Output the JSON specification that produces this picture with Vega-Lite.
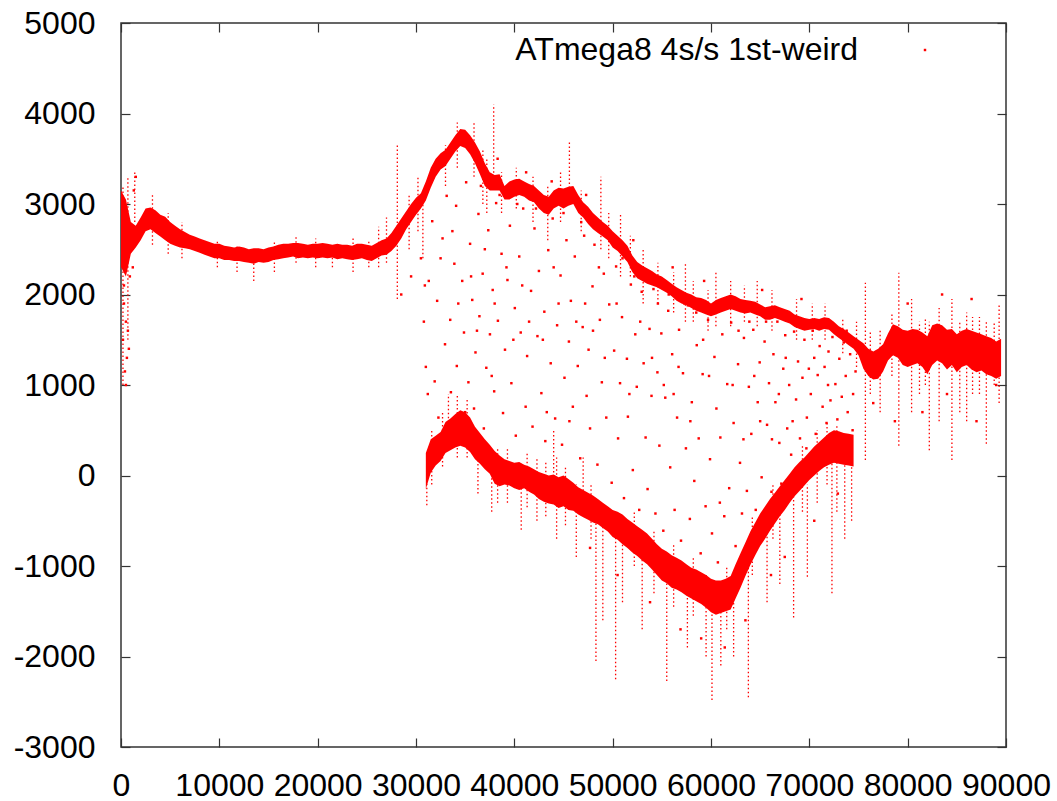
{
  "$schema": "https://vega.github.io/schema/vega-lite/v6.json",
  "width": 885,
  "height": 724,
  "autosize": {"type": "none"},
  "padding": {"left": 121, "top": 23, "right": 51, "bottom": 54},
  "background": "white",
  "config": {
    "view": {"stroke": "#333333", "strokeWidth": 1.5},
    "font": "Liberation Sans",
    "axis": {"grid": false, "domain": false, "tickColor": "#333333", "tickWidth": 1.2, "labelFont": "Liberation Sans", "labelFontSize": 32, "labelColor": "#000000", "title": null}
  },
  "datasets": {
    "upper": [
      {"x":0,"lo":2300,"hi":3150},{"x":500,"lo":2200,"hi":3050},{"x":1000,"lo":2450,"hi":2800},{"x":1500,"lo":2520,"hi":2760},
      {"x":2000,"lo":2600,"hi":2850},{"x":2500,"lo":2700,"hi":2950},{"x":3000,"lo":2720,"hi":2960},{"x":3500,"lo":2680,"hi":2930},
      {"x":4000,"lo":2640,"hi":2880},{"x":4500,"lo":2600,"hi":2860},{"x":5000,"lo":2560,"hi":2800},{"x":5500,"lo":2540,"hi":2760},
      {"x":6000,"lo":2520,"hi":2720},{"x":6500,"lo":2510,"hi":2690},{"x":7000,"lo":2500,"hi":2660},{"x":7500,"lo":2480,"hi":2640},
      {"x":8000,"lo":2460,"hi":2620},{"x":8500,"lo":2440,"hi":2600},{"x":9000,"lo":2420,"hi":2580},{"x":9500,"lo":2400,"hi":2560},
      {"x":10000,"lo":2400,"hi":2560},{"x":10500,"lo":2380,"hi":2540},{"x":11000,"lo":2380,"hi":2530},{"x":11500,"lo":2370,"hi":2520},
      {"x":12000,"lo":2370,"hi":2530},{"x":12500,"lo":2360,"hi":2520},{"x":13000,"lo":2350,"hi":2500},{"x":13500,"lo":2340,"hi":2510},
      {"x":14000,"lo":2360,"hi":2510},{"x":14500,"lo":2350,"hi":2500},{"x":15000,"lo":2360,"hi":2520},{"x":15500,"lo":2380,"hi":2530},
      {"x":16000,"lo":2390,"hi":2550},{"x":16500,"lo":2400,"hi":2560},{"x":17000,"lo":2410,"hi":2560},{"x":17500,"lo":2420,"hi":2570},
      {"x":18000,"lo":2400,"hi":2570},{"x":18500,"lo":2410,"hi":2560},{"x":19000,"lo":2400,"hi":2550},{"x":19500,"lo":2410,"hi":2560},
      {"x":20000,"lo":2400,"hi":2560},{"x":20500,"lo":2410,"hi":2570},{"x":21000,"lo":2400,"hi":2560},{"x":21500,"lo":2410,"hi":2550},
      {"x":22000,"lo":2390,"hi":2560},{"x":22500,"lo":2400,"hi":2550},{"x":23000,"lo":2390,"hi":2550},{"x":23500,"lo":2380,"hi":2540},
      {"x":24000,"lo":2390,"hi":2560},{"x":24500,"lo":2400,"hi":2560},{"x":25000,"lo":2380,"hi":2550},{"x":25500,"lo":2370,"hi":2540},
      {"x":26000,"lo":2400,"hi":2570},{"x":26500,"lo":2430,"hi":2600},{"x":27000,"lo":2440,"hi":2620},{"x":27500,"lo":2480,"hi":2680},
      {"x":28000,"lo":2540,"hi":2760},{"x":28500,"lo":2620,"hi":2840},{"x":29000,"lo":2720,"hi":2920},{"x":29500,"lo":2800,"hi":3000},
      {"x":30000,"lo":2880,"hi":3070},{"x":30500,"lo":2950,"hi":3120},{"x":31000,"lo":3040,"hi":3250},{"x":31500,"lo":3180,"hi":3400},
      {"x":32000,"lo":3300,"hi":3500},{"x":32500,"lo":3380,"hi":3560},{"x":33000,"lo":3420,"hi":3600},{"x":33500,"lo":3500,"hi":3680},
      {"x":34000,"lo":3580,"hi":3760},{"x":34500,"lo":3640,"hi":3830},{"x":35000,"lo":3620,"hi":3820},{"x":35500,"lo":3550,"hi":3760},
      {"x":36000,"lo":3450,"hi":3680},{"x":36500,"lo":3330,"hi":3580},{"x":37000,"lo":3200,"hi":3450},{"x":37500,"lo":3150,"hi":3350},
      {"x":38000,"lo":3150,"hi":3320},{"x":38500,"lo":3150,"hi":3330},{"x":39000,"lo":3050,"hi":3200},{"x":39500,"lo":3050,"hi":3250},
      {"x":40000,"lo":3080,"hi":3270},{"x":40500,"lo":3100,"hi":3280},{"x":41000,"lo":3080,"hi":3250},{"x":41500,"lo":3040,"hi":3220},
      {"x":42000,"lo":3020,"hi":3200},{"x":42500,"lo":2950,"hi":3150},{"x":43000,"lo":2900,"hi":3100},{"x":43500,"lo":2880,"hi":3080},
      {"x":44000,"lo":2950,"hi":3150},{"x":44500,"lo":2980,"hi":3180},{"x":45000,"lo":2950,"hi":3170},{"x":45500,"lo":2980,"hi":3190},
      {"x":46000,"lo":3000,"hi":3200},{"x":46500,"lo":2900,"hi":3100},{"x":47000,"lo":2850,"hi":3020},{"x":47500,"lo":2780,"hi":2970},
      {"x":48000,"lo":2720,"hi":2900},{"x":48500,"lo":2680,"hi":2850},{"x":49000,"lo":2640,"hi":2800},{"x":49500,"lo":2600,"hi":2760},
      {"x":50000,"lo":2520,"hi":2700},{"x":50500,"lo":2480,"hi":2650},{"x":51000,"lo":2420,"hi":2600},{"x":51500,"lo":2360,"hi":2540},
      {"x":52000,"lo":2250,"hi":2430},{"x":52500,"lo":2180,"hi":2360},{"x":53000,"lo":2150,"hi":2320},{"x":53500,"lo":2120,"hi":2290},
      {"x":54000,"lo":2100,"hi":2260},{"x":54500,"lo":2080,"hi":2220},{"x":55000,"lo":2050,"hi":2200},{"x":55500,"lo":2020,"hi":2160},
      {"x":56000,"lo":1980,"hi":2120},{"x":56500,"lo":1930,"hi":2080},{"x":57000,"lo":1900,"hi":2050},{"x":57500,"lo":1880,"hi":2020},
      {"x":58000,"lo":1850,"hi":2000},{"x":58500,"lo":1820,"hi":1970},{"x":59000,"lo":1800,"hi":1960},{"x":59500,"lo":1780,"hi":1940},
      {"x":60000,"lo":1760,"hi":1900},{"x":60500,"lo":1780,"hi":1940},{"x":61000,"lo":1800,"hi":1960},{"x":61500,"lo":1820,"hi":1980},
      {"x":62000,"lo":1840,"hi":2000},{"x":62500,"lo":1820,"hi":1980},{"x":63000,"lo":1800,"hi":1950},{"x":63500,"lo":1790,"hi":1940},
      {"x":64000,"lo":1800,"hi":1930},{"x":64500,"lo":1780,"hi":1920},{"x":65000,"lo":1760,"hi":1890},{"x":65500,"lo":1720,"hi":1860},
      {"x":66000,"lo":1720,"hi":1870},{"x":66500,"lo":1740,"hi":1880},{"x":67000,"lo":1720,"hi":1860},{"x":67500,"lo":1700,"hi":1840},
      {"x":68000,"lo":1680,"hi":1820},{"x":68500,"lo":1640,"hi":1780},{"x":69000,"lo":1620,"hi":1760},{"x":69500,"lo":1600,"hi":1740},
      {"x":70000,"lo":1610,"hi":1730},{"x":70500,"lo":1620,"hi":1740},{"x":71000,"lo":1600,"hi":1730},{"x":71500,"lo":1620,"hi":1750},
      {"x":72000,"lo":1610,"hi":1740},{"x":72500,"lo":1560,"hi":1700},{"x":73000,"lo":1520,"hi":1650},{"x":73500,"lo":1480,"hi":1620},
      {"x":74000,"lo":1440,"hi":1580},{"x":74500,"lo":1400,"hi":1540},{"x":75000,"lo":1330,"hi":1500},{"x":75500,"lo":1180,"hi":1460},
      {"x":76000,"lo":1100,"hi":1400},{"x":76500,"lo":1060,"hi":1370},{"x":77000,"lo":1070,"hi":1400},{"x":77500,"lo":1150,"hi":1450},
      {"x":78000,"lo":1270,"hi":1570},{"x":78500,"lo":1330,"hi":1670},{"x":79000,"lo":1300,"hi":1650},{"x":79500,"lo":1220,"hi":1610},
      {"x":80000,"lo":1200,"hi":1600},{"x":80500,"lo":1220,"hi":1620},{"x":81000,"lo":1240,"hi":1610},{"x":81500,"lo":1200,"hi":1580},
      {"x":82000,"lo":1120,"hi":1540},{"x":82500,"lo":1220,"hi":1660},{"x":83000,"lo":1270,"hi":1680},{"x":83500,"lo":1240,"hi":1660},
      {"x":84000,"lo":1170,"hi":1610},{"x":84500,"lo":1220,"hi":1620},{"x":85000,"lo":1140,"hi":1560},{"x":85500,"lo":1200,"hi":1600},
      {"x":86000,"lo":1220,"hi":1620},{"x":86500,"lo":1170,"hi":1600},{"x":87000,"lo":1140,"hi":1580},{"x":87500,"lo":1160,"hi":1560},
      {"x":88000,"lo":1120,"hi":1540},{"x":88500,"lo":1100,"hi":1520},{"x":89000,"lo":1070,"hi":1480},{"x":89500,"lo":1100,"hi":1510}
    ],
    "lower": [
      {"x":31000,"lo":-150,"hi":250},{"x":31500,"lo":30,"hi":400},{"x":32000,"lo":110,"hi":440},{"x":32500,"lo":160,"hi":480},
      {"x":33000,"lo":250,"hi":590},{"x":33500,"lo":280,"hi":630},{"x":34000,"lo":310,"hi":680},{"x":34500,"lo":330,"hi":720},
      {"x":35000,"lo":310,"hi":700},{"x":35500,"lo":260,"hi":640},{"x":36000,"lo":180,"hi":540},{"x":36500,"lo":130,"hi":470},
      {"x":37000,"lo":70,"hi":400},{"x":37500,"lo":20,"hi":340},{"x":38000,"lo":-90,"hi":270},{"x":38500,"lo":-120,"hi":220},
      {"x":39000,"lo":-100,"hi":180},{"x":39500,"lo":-110,"hi":160},{"x":40000,"lo":-140,"hi":140},{"x":40500,"lo":-160,"hi":150},
      {"x":41000,"lo":-140,"hi":120},{"x":41500,"lo":-180,"hi":100},{"x":42000,"lo":-210,"hi":70},{"x":42500,"lo":-260,"hi":40},
      {"x":43000,"lo":-290,"hi":20},{"x":43500,"lo":-310,"hi":0},{"x":44000,"lo":-320,"hi":10},{"x":44500,"lo":-360,"hi":-20},
      {"x":45000,"lo":-340,"hi":0},{"x":45500,"lo":-380,"hi":-40},{"x":46000,"lo":-390,"hi":-80},{"x":46500,"lo":-430,"hi":-130},
      {"x":47000,"lo":-460,"hi":-160},{"x":47500,"lo":-490,"hi":-190},{"x":48000,"lo":-520,"hi":-220},{"x":48500,"lo":-540,"hi":-260},
      {"x":49000,"lo":-580,"hi":-300},{"x":49500,"lo":-620,"hi":-340},{"x":50000,"lo":-680,"hi":-380},{"x":50500,"lo":-710,"hi":-400},
      {"x":51000,"lo":-760,"hi":-430},{"x":51500,"lo":-800,"hi":-480},{"x":52000,"lo":-850,"hi":-520},{"x":52500,"lo":-890,"hi":-560},
      {"x":53000,"lo":-940,"hi":-600},{"x":53500,"lo":-980,"hi":-640},{"x":54000,"lo":-1040,"hi":-700},{"x":54500,"lo":-1100,"hi":-760},
      {"x":55000,"lo":-1160,"hi":-810},{"x":55500,"lo":-1190,"hi":-840},{"x":56000,"lo":-1240,"hi":-880},{"x":56500,"lo":-1260,"hi":-910},
      {"x":57000,"lo":-1290,"hi":-940},{"x":57500,"lo":-1330,"hi":-980},{"x":58000,"lo":-1360,"hi":-1020},{"x":58500,"lo":-1390,"hi":-1040},
      {"x":59000,"lo":-1420,"hi":-1070},{"x":59500,"lo":-1460,"hi":-1100},{"x":60000,"lo":-1510,"hi":-1140},{"x":60500,"lo":-1540,"hi":-1160},
      {"x":61000,"lo":-1520,"hi":-1160},{"x":61500,"lo":-1500,"hi":-1140},{"x":62000,"lo":-1480,"hi":-1110},{"x":62500,"lo":-1360,"hi":-980},
      {"x":63000,"lo":-1240,"hi":-860},{"x":63500,"lo":-1110,"hi":-740},{"x":64000,"lo":-990,"hi":-620},{"x":64500,"lo":-880,"hi":-520},
      {"x":65000,"lo":-780,"hi":-420},{"x":65500,"lo":-700,"hi":-340},{"x":66000,"lo":-610,"hi":-260},{"x":66500,"lo":-530,"hi":-190},
      {"x":67000,"lo":-450,"hi":-120},{"x":67500,"lo":-380,"hi":-50},{"x":68000,"lo":-300,"hi":20},{"x":68500,"lo":-230,"hi":90},
      {"x":69000,"lo":-170,"hi":150},{"x":69500,"lo":-110,"hi":200},{"x":70000,"lo":-50,"hi":260},{"x":70500,"lo":0,"hi":320},
      {"x":71000,"lo":50,"hi":370},{"x":71500,"lo":90,"hi":420},{"x":72000,"lo":120,"hi":470},{"x":72500,"lo":140,"hi":500},
      {"x":73000,"lo":130,"hi":490},{"x":73500,"lo":120,"hi":470},{"x":74000,"lo":110,"hi":460},{"x":74500,"lo":100,"hi":450}
    ],
    "spikes": [
      {"x":200,"lo":1000,"hi":3200},{"x":700,"lo":1500,"hi":3300},{"x":1400,"lo":2800,"hi":3350},{"x":13500,"lo":2150,"hi":2450},
      {"x":21500,"lo":2300,"hi":2450},{"x":27000,"lo":2350,"hi":2850},{"x":28100,"lo":1950,"hi":3650},{"x":30700,"lo":2400,"hi":3000},
      {"x":37200,"lo":2900,"hi":3500},{"x":37900,"lo":3300,"hi":4100},{"x":45600,"lo":3000,"hi":3680},{"x":48800,"lo":2500,"hi":3300},
      {"x":50800,"lo":2200,"hi":2880},{"x":53100,"lo":1900,"hi":2500},{"x":57400,"lo":1700,"hi":2350},{"x":60500,"lo":1650,"hi":2250},
      {"x":64700,"lo":1650,"hi":2150},{"x":75700,"lo":170,"hi":2130},{"x":77200,"lo":700,"hi":1600},{"x":79100,"lo":330,"hi":2240},
      {"x":80400,"lo":700,"hi":1950},{"x":81200,"lo":900,"hi":1700},{"x":82200,"lo":280,"hi":1700},{"x":83200,"lo":600,"hi":1850},
      {"x":84500,"lo":170,"hi":1950},{"x":85300,"lo":700,"hi":1700},{"x":86000,"lo":600,"hi":1800},{"x":87300,"lo":900,"hi":1750},
      {"x":88000,"lo":350,"hi":1700},{"x":89300,"lo":800,"hi":1900},
      {"x":3200,"lo":2550,"hi":3100},{"x":4800,"lo":2450,"hi":2900},{"x":6200,"lo":2400,"hi":2800},{"x":9800,"lo":2300,"hi":2600},
      {"x":11800,"lo":2250,"hi":2550},{"x":15600,"lo":2250,"hi":2600},{"x":17800,"lo":2350,"hi":2650},{"x":19800,"lo":2300,"hi":2620},
      {"x":23600,"lo":2250,"hi":2620},{"x":25200,"lo":2300,"hi":2600},{"x":26200,"lo":2300,"hi":2750},{"x":29300,"lo":2500,"hi":3100},
      {"x":30200,"lo":2700,"hi":3300},{"x":33000,"lo":3200,"hi":3650},{"x":34200,"lo":3400,"hi":3900},{"x":35900,"lo":3300,"hi":3900},
      {"x":36800,"lo":3000,"hi":3600},{"x":38700,"lo":2900,"hi":3350},{"x":40200,"lo":2950,"hi":3400},{"x":41900,"lo":2800,"hi":3300},
      {"x":43400,"lo":2600,"hi":3200},{"x":44700,"lo":2800,"hi":3350},{"x":46800,"lo":2700,"hi":3150},{"x":49600,"lo":2400,"hi":2900},
      {"x":51800,"lo":2200,"hi":2650},{"x":54600,"lo":1900,"hi":2350},{"x":56200,"lo":1800,"hi":2250},{"x":58200,"lo":1700,"hi":2150},
      {"x":59700,"lo":1600,"hi":2050},{"x":62000,"lo":1650,"hi":2150},{"x":63400,"lo":1700,"hi":2100},{"x":66200,"lo":1600,"hi":2050},
      {"x":68700,"lo":1500,"hi":1950},{"x":70300,"lo":1500,"hi":1900},{"x":71600,"lo":1500,"hi":1900},{"x":73400,"lo":1350,"hi":1750},
      {"x":74800,"lo":1200,"hi":1700},{"x":76200,"lo":900,"hi":1600},{"x":78400,"lo":1100,"hi":1800},{"x":81800,"lo":1000,"hi":1750},
      {"x":86600,"lo":900,"hi":1750},{"x":88800,"lo":1000,"hi":1700},
      {"x":31100,"lo":-330,"hi":0},{"x":33300,"lo":500,"hi":900},{"x":36300,"lo":-200,"hi":300},{"x":37700,"lo":-400,"hi":200},
      {"x":40700,"lo":-600,"hi":100},{"x":42300,"lo":-500,"hi":200},{"x":44000,"lo":-100,"hi":500},{"x":44300,"lo":-700,"hi":200},
      {"x":46300,"lo":-900,"hi":-100},{"x":47000,"lo":-300,"hi":200},{"x":48300,"lo":-2050,"hi":-300},{"x":49000,"lo":-1600,"hi":-400},
      {"x":50300,"lo":-2250,"hi":-450},{"x":51000,"lo":-1400,"hi":-600},{"x":53000,"lo":-1700,"hi":-700},{"x":55500,"lo":-2270,"hi":-900},
      {"x":57600,"lo":-1900,"hi":-1000},{"x":59500,"lo":-2000,"hi":-1100},{"x":60100,"lo":-2480,"hi":-1200},{"x":61000,"lo":-2100,"hi":-1200},
      {"x":62300,"lo":-2000,"hi":-1200},{"x":63800,"lo":-2450,"hi":-700},{"x":65700,"lo":-1400,"hi":-400},{"x":67000,"lo":-1200,"hi":-300},
      {"x":68400,"lo":-1570,"hi":-200},{"x":69800,"lo":-1120,"hi":-100},{"x":72300,"lo":-1300,"hi":200},{"x":73600,"lo":-700,"hi":300},
      {"x":74300,"lo":-500,"hi":350},
      {"x":31600,"lo":-100,"hi":500},{"x":32700,"lo":100,"hi":700},{"x":34200,"lo":200,"hi":900},{"x":35200,"lo":200,"hi":850},
      {"x":38300,"lo":-300,"hi":300},{"x":39300,"lo":-300,"hi":300},{"x":41300,"lo":-350,"hi":250},{"x":43200,"lo":-450,"hi":150},
      {"x":45200,"lo":-550,"hi":100},{"x":47800,"lo":-700,"hi":-100},{"x":52200,"lo":-1000,"hi":-400},{"x":54200,"lo":-1300,"hi":-600},
      {"x":56200,"lo":-1450,"hi":-750},{"x":58200,"lo":-1550,"hi":-900},{"x":61600,"lo":-1700,"hi":-1000},{"x":64200,"lo":-1100,"hi":-450},
      {"x":66300,"lo":-700,"hi":-100},{"x":69300,"lo":-400,"hi":350},{"x":70800,"lo":-300,"hi":500},{"x":71800,"lo":-100,"hi":600},
      {"x":72800,"lo":-400,"hi":550}
    ],
    "pts": [
      {"x":300,"y":1900},{"x":500,"y":1700},{"x":200,"y":1500},{"x":600,"y":1300},{"x":400,"y":1150},{"x":700,"y":1600},{"x":300,"y":2100},
      {"x":800,"y":1400},{"x":500,"y":1000},{"x":900,"y":2200},{"x":1200,"y":2300},{"x":1500,"y":3300},{"x":1300,"y":3150},
      {"x":28500,"y":2000},{"x":29500,"y":2200},{"x":30500,"y":2400},{"x":30800,"y":1700},{"x":31200,"y":900},{"x":31000,"y":1200},{"x":30900,"y":2100},
      {"x":31300,"y":2150},{"x":31650,"y":2810},{"x":31900,"y":1040},{"x":32150,"y":1930},{"x":32280,"y":640},{"x":32700,"y":2620},{"x":32950,"y":1450},
      {"x":33120,"y":3090},{"x":33480,"y":1720},{"x":33550,"y":920},{"x":33900,"y":2340},{"x":34080,"y":2980},{"x":34150,"y":1210},{"x":34520,"y":610},
      {"x":34700,"y":2150},{"x":34880,"y":1580},{"x":35100,"y":3240},{"x":35330,"y":1030},{"x":35500,"y":2560},{"x":35720,"y":1940},{"x":35900,"y":740},
      {"x":36050,"y":1360},{"x":36350,"y":2890},{"x":36450,"y":1760},{"x":36780,"y":2230},{"x":36900,"y":520},{"x":37150,"y":1190},{"x":37350,"y":2710},
      {"x":37520,"y":1560},{"x":37800,"y":2050},{"x":37950,"y":930},{"x":38150,"y":3010},{"x":38330,"y":1710},{"x":38700,"y":2450},{"x":38850,"y":690},
      {"x":39050,"y":1390},{"x":39300,"y":2160},{"x":39550,"y":2760},{"x":39700,"y":1020},{"x":40050,"y":1850},{"x":40150,"y":440},{"x":40500,"y":2420},
      {"x":40650,"y":1580},{"x":40900,"y":2950},{"x":41150,"y":760},{"x":41300,"y":1320},{"x":41700,"y":2040},{"x":41850,"y":540},{"x":42050,"y":2730},
      {"x":42350,"y":1540},{"x":42500,"y":2260},{"x":42750,"y":910},{"x":43050,"y":1810},{"x":43150,"y":380},{"x":43450,"y":2490},{"x":43700,"y":1240},
      {"x":43900,"y":2840},{"x":44150,"y":630},{"x":44350,"y":1660},{"x":44700,"y":2210},{"x":44850,"y":340},{"x":45100,"y":1080},{"x":45300,"y":2600},
      {"x":45550,"y":1480},{"x":45750,"y":1930},{"x":45950,"y":760},{"x":46150,"y":2420},{"x":46450,"y":1210},{"x":46700,"y":190},{"x":46950,"y":1640},
      {"x":47100,"y":2650},{"x":47350,"y":880},{"x":47550,"y":1390},{"x":47700,"y":520},{"x":47950,"y":2090},{"x":48150,"y":2550},{"x":48450,"y":120},
      {"x":48700,"y":1720},{"x":48900,"y":1030},{"x":49100,"y":2230},{"x":49350,"y":640},{"x":49650,"y":1890},{"x":49900,"y":-80},{"x":50150,"y":1380},
      {"x":50350,"y":2310},{"x":50550,"y":410},{"x":50750,"y":1020},{"x":50950,"y":1750},{"x":51150,"y":-250},{"x":51450,"y":1290},{"x":51550,"y":650},
      {"x":51850,"y":2110},{"x":52050,"y":60},{"x":52300,"y":1560},{"x":52450,"y":980},{"x":52700,"y":-380},{"x":52950,"y":2030},{"x":53150,"y":1240},
      {"x":53350,"y":420},{"x":53550,"y":-150},{"x":53750,"y":1620},{"x":53950,"y":880},{"x":54150,"y":2060},{"x":54350,"y":-420},{"x":54550,"y":1140},
      {"x":54750,"y":330},{"x":54950,"y":1570},{"x":55150,"y":-610},{"x":55350,"y":860},{"x":55650,"y":1820},{"x":55850,"y":90},{"x":56050,"y":1340},
      {"x":56300,"y":-380},{"x":56550,"y":640},{"x":56750,"y":1610},{"x":56950,"y":-720},{"x":57150,"y":1130},{"x":57450,"y":300},{"x":57650,"y":1880},
      {"x":57850,"y":-480},{"x":58050,"y":810},{"x":58300,"y":-60},{"x":58550,"y":1440},{"x":58750,"y":410},{"x":58950,"y":-860},{"x":59150,"y":1120},
      {"x":59450,"y":-340},{"x":59700,"y":1720},{"x":59900,"y":180},{"x":60100,"y":-640},{"x":60350,"y":1310},{"x":60550,"y":740},{"x":60700,"y":-960},
      {"x":60950,"y":420},{"x":61150,"y":1560},{"x":61350,"y":-450},{"x":61650,"y":1010},{"x":61850,"y":-140},{"x":62050,"y":1690},{"x":62300,"y":580},
      {"x":62500,"y":-780},{"x":62750,"y":1230},{"x":62950,"y":140},{"x":63150,"y":-420},{"x":63350,"y":1520},{"x":63650,"y":-170},{"x":63850,"y":980},
      {"x":64100,"y":460},{"x":64300,"y":1610},{"x":64550,"y":-380},{"x":64750,"y":810},{"x":64950,"y":1250},{"x":65150,"y":-20},{"x":65450,"y":1480},
      {"x":65700,"y":560},{"x":65900,"y":1020},{"x":66150,"y":-180},{"x":66350,"y":1340},{"x":66550,"y":810},{"x":66750,"y":1700},{"x":66950,"y":360},
      {"x":67150,"y":-90},{"x":67350,"y":1180},{"x":67550,"y":1550},{"x":67750,"y":520},{"x":67950,"y":1000},{"x":68150,"y":230},{"x":68450,"y":1590},
      {"x":68650,"y":840},{"x":68850,"y":1260},{"x":69050,"y":410},{"x":69300,"y":1080},{"x":69500,"y":1500},{"x":69750,"y":640},{"x":69950,"y":1180},
      {"x":70150,"y":900},{"x":70350,"y":1600},{"x":70650,"y":460},{"x":70850,"y":1110},{"x":71050,"y":1430},{"x":71350,"y":760},{"x":71550,"y":1200},
      {"x":71750,"y":580},{"x":71950,"y":1370},{"x":72150,"y":830},{"x":72350,"y":1530},{"x":72650,"y":1010},{"x":72850,"y":620},{"x":73050,"y":1290},
      {"x":73300,"y":870},{"x":73500,"y":1470},{"x":73700,"y":1100},{"x":73900,"y":700},{"x":74150,"y":1340},{"x":74450,"y":900},{"x":74700,"y":1150},
      {"x":74900,"y":1400},
      {"x":31800,"y":3300},{"x":32500,"y":2400},{"x":33000,"y":380},{"x":33700,"y":2700},{"x":34300,"y":1900},{"x":35000,"y":700},{"x":35600,"y":2200},
      {"x":36200,"y":1600},{"x":36600,"y":3200},{"x":37000,"y":2500},{"x":37700,"y":1100},{"x":38000,"y":1900},{"x":38500,"y":3100},{"x":39200,"y":2300},
      {"x":39900,"y":1500},{"x":40300,"y":3000},{"x":40800,"y":2100},{"x":41500,"y":1700},{"x":42200,"y":2950},{"x":42900,"y":1500},{"x":43300,"y":700},
      {"x":44000,"y":2300},{"x":44500,"y":1900},{"x":45000,"y":2900},{"x":45600,"y":600},{"x":46300,"y":1700},{"x":46800,"y":2800},{"x":47200,"y":1900},
      {"x":48000,"y":1600},{"x":48600,"y":2300},{"x":49200,"y":1300},{"x":49800,"y":2600},{"x":50400,"y":1900},{"x":51000,"y":2400},{"x":51700,"y":900},
      {"x":52200,"y":2200},{"x":52800,"y":1700},{"x":53300,"y":2200},{"x":54000,"y":1300},{"x":54600,"y":1900},{"x":55200,"y":1000},{"x":55700,"y":2000},
      {"x":56200,"y":900},{"x":56700,"y":1200},{"x":57300,"y":1900},{"x":57900,"y":600},{"x":58500,"y":1800},{"x":59200,"y":1500},{"x":59800,"y":1100},
      {"x":60400,"y":1900},{"x":60900,"y":-300},{"x":61500,"y":1900},{"x":62200,"y":1000},{"x":62800,"y":1600},{"x":63300,"y":400},{"x":63900,"y":1700},
      {"x":64400,"y":1100},{"x":65000,"y":600},{"x":65600,"y":1700},{"x":66200,"y":400},{"x":66900,"y":900},{"x":67600,"y":1300},{"x":68300,"y":600},
      {"x":69000,"y":1700},{"x":69700,"y":300},{"x":70500,"y":1300},{"x":71200,"y":300},{"x":71900,"y":1000},{"x":72500,"y":200},{"x":73200,"y":300},
      {"x":73800,"y":1600},{"x":74400,"y":500},
      {"x":38300,"y":3500},{"x":41200,"y":3350},{"x":43800,"y":3250},{"x":47300,"y":3100},{"x":52100,"y":2600},{"x":56100,"y":2300},{"x":59300,"y":2150},
      {"x":65200,"y":2050},{"x":69200,"y":1950},{"x":47700,"y":-800},{"x":50500,"y":-1100},{"x":53800,"y":-1400},{"x":56900,"y":-1700},{"x":59000,"y":-1800},
      {"x":61400,"y":-1900},{"x":63500,"y":-1600},{"x":66100,"y":-1100},{"x":67500,"y":-900},{"x":70500,"y":-500},{"x":72900,"y":-200},{"x":76500,"y":800},
      {"x":78700,"y":600},{"x":81500,"y":700},{"x":84000,"y":900},{"x":87000,"y":600},{"x":89000,"y":1000},{"x":80000,"y":1900},{"x":83500,"y":2000},{"x":86500,"y":1950}
    ]
  },
  "resolve": {"axis": {"x": "independent", "y": "independent"}},
  "layer": [
    {
      "data": {"name": "upper"},
      "mark": {"type": "area", "color": "#ff0000", "opacity": 1, "interpolate": "linear"},
      "encoding": {
        "x": {"field": "x", "type": "quantitative", "scale": {"domain": [0, 90000], "nice": false, "zero": false},
              "axis": {"orient": "bottom", "values": [0,10000,20000,30000,40000,50000,60000,70000,80000,90000], "labelExpr": "'' + datum.value", "tickSize": -9, "labelPadding": 32, "labelFlush": false, "labelOverlap": false}},
        "y": {"field": "lo", "type": "quantitative", "scale": {"domain": [-3000, 5000], "nice": false, "zero": false},
              "axis": {"orient": "left", "values": [-3000,-2000,-1000,0,1000,2000,3000,4000,5000], "labelExpr": "'' + datum.value", "tickSize": -9, "labelPadding": 35}},
        "y2": {"field": "hi"}
      }
    },
    {
      "data": {"name": "lower"},
      "mark": {"type": "area", "color": "#ff0000", "opacity": 1, "interpolate": "linear"},
      "encoding": {
        "x": {"field": "x", "type": "quantitative", "axis": null},
        "y": {"field": "lo", "type": "quantitative", "axis": null},
        "y2": {"field": "hi"}
      }
    },
    {
      "data": {"name": "spikes"},
      "mark": {"type": "rule", "color": "#ff0000", "strokeWidth": 1.3, "strokeDash": [1.5, 2.5], "strokeCap": "butt"},
      "encoding": {
        "x": {"field": "x", "type": "quantitative",
              "axis": {"orient": "top", "values": [0,10000,20000,30000,40000,50000,60000,70000,80000,90000], "tickSize": -9, "labels": false}},
        "y": {"field": "lo", "type": "quantitative",
              "axis": {"orient": "right", "values": [-3000,-2000,-1000,0,1000,2000,3000,4000,5000], "tickSize": -9, "labels": false}},
        "y2": {"field": "hi"}
      }
    },
    {
      "data": {"name": "pts"},
      "mark": {"type": "point", "shape": "square", "filled": true, "size": 6, "opacity": 1},
      "encoding": {
        "x": {"field": "x", "type": "quantitative", "axis": null},
        "y": {"field": "y", "type": "quantitative", "axis": null},
        "color": {"datum": "ATmega8 4s/s 1st-weird", "type": "nominal",
                  "scale": {"range": ["#ff0000"]},
                  "legend": {"title": null, "orient": "none", "legendX": 788, "legendY": 11, "labelFontSize": 32, "labelFont": "Liberation Sans", "labelColor": "#000000", "labelAlign": "right", "labelOffset": -83, "labelLimit": 800, "symbolSize": 6, "symbolType": "square", "padding": 0}}
      }
    }
  ]
}
